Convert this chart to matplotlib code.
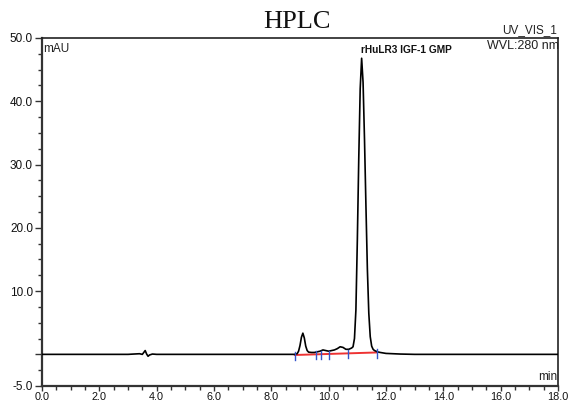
import matplotlib
matplotlib.use("Agg")
import matplotlib.pyplot as plt
from matplotlib.ticker import FixedLocator, MultipleLocator

# ---- data ----
time_min = [0.0, 1.0, 2.0, 3.0, 3.2, 3.4, 3.5, 3.55, 3.6, 3.65, 3.7, 3.75, 3.85, 4.0,
            5.0, 6.0, 7.0, 8.0, 8.5, 8.8, 8.9, 8.95, 9.0, 9.05, 9.1, 9.15, 9.2, 9.25,
            9.3, 9.4, 9.5, 9.6, 9.7, 9.8, 9.9, 10.0, 10.1, 10.2, 10.3, 10.4, 10.5,
            10.6, 10.7, 10.75, 10.8, 10.85, 10.9, 10.95, 11.0, 11.05, 11.1, 11.15,
            11.2, 11.25, 11.3, 11.35, 11.4, 11.45, 11.5, 11.55, 11.6, 11.7, 11.8,
            12.0, 12.5, 13.0, 14.0, 15.0, 16.0, 17.0, 18.0]
absorbance = [0.0, 0.0, 0.0, 0.0, 0.05, 0.1, 0.0, 0.3, 0.6, 0.05, -0.3, -0.1, 0.05, 0.0,
              0.0, 0.0, 0.0, 0.0, 0.0, 0.0, 0.1, 0.5, 1.4, 2.7, 3.35, 2.6, 1.3, 0.6,
              0.35, 0.3, 0.3, 0.4, 0.5, 0.7, 0.6, 0.5, 0.6, 0.7, 0.9, 1.2, 1.1,
              0.8, 0.8, 0.9, 1.0, 1.2, 2.5, 7.0, 18.0, 31.0, 42.0, 46.8,
              43.0, 34.0, 23.5, 13.5, 6.5, 2.8, 1.3, 0.8, 0.6, 0.4, 0.3,
              0.15, 0.05, 0.0, 0.0, 0.0, 0.0, 0.0, 0.0]

baseline_t = [8.82, 11.68]
baseline_v = [-0.1, 0.3]
marker_t = [8.82, 9.55, 9.72, 10.0, 10.67, 11.68]

peak_name = "rHuLR3 IGF-1 GMP"
peak_t = 11.15
peak_v = 46.8

x_major = [0, 2, 4, 6, 8, 10, 12, 14, 16, 18]
x_labels = ["0.0", "2.0", "4.0", "6.0", "8.0", "10.0", "12.0", "14.0", "16.0", "18.0"]
y_major = [-5, 0, 10, 20, 30, 40, 50]
y_labels = ["-5.0", "", "10.0", "20.0", "30.0", "40.0", "50.0"]

# ---- figure ----
fig = plt.figure(figsize=(5.69, 4.03), dpi=100)
ax = fig.add_axes([42 / 569, 1 - 386 / 403, (558 - 42) / 569, (386 - 38) / 403])

ax.plot(baseline_t, baseline_v, color="#ee3333", lw=1.4, zorder=2)
ax.plot(time_min, absorbance, color="black", lw=1.2, zorder=3)
for t in marker_t:
    b = baseline_v[0] + (baseline_v[1] - baseline_v[0]) * (t - baseline_t[0]) / (baseline_t[1] - baseline_t[0])
    ax.plot([t, t], [b - 0.8, b + 0.5], color="#3355cc", lw=1.0, zorder=4)

ax.set_xlim(0, 18)
ax.set_ylim(-5, 50)

tick_font = dict(family="Liberation Sans", size=7.8)
ax.xaxis.set_major_locator(FixedLocator(x_major))
ax.set_xticklabels(x_labels, fontdict=tick_font, color="#111111")
ax.xaxis.set_minor_locator(MultipleLocator(0.5))
ax.yaxis.set_major_locator(FixedLocator(y_major))
ax.set_yticklabels(y_labels, fontdict=dict(family="Liberation Sans", size=8.5), color="#111111")
ax.yaxis.set_minor_locator(MultipleLocator(2.5))

ax.tick_params(axis="y", which="major", direction="out", length=5, width=1.0,
               color="#333333", pad=1.5)
ax.tick_params(axis="x", which="major", direction="out", length=3.5, width=1.0,
               color="#333333", pad=0.5)
ax.tick_params(axis="both", which="minor", direction="out", length=3, width=1.0,
               color="#333333")

for s in ["left", "bottom"]:
    ax.spines[s].set_linewidth(1.6)
    ax.spines[s].set_color("#333333")
for s in ["top", "right"]:
    ax.spines[s].set_linewidth(1.2)
    ax.spines[s].set_color("#222222")

small = dict(family="Liberation Sans", size=8.5, color="#222222")
ax.text(0.002, 0.985, "mAU", transform=ax.transAxes, ha="left", va="top", **small)
ax.text(0.998, 1.005, "UV_VIS_1", transform=ax.transAxes, ha="right", va="bottom", **small)
ax.text(1.002, 0.995, "WVL:280 nm", transform=ax.transAxes, ha="right", va="top",
        family="Liberation Sans", size=9, color="#222222")
ax.text(0.998, 0.01, "min", transform=ax.transAxes, ha="right", va="bottom", **small)
ax.text(peak_t - 0.02, peak_v + 1.3, peak_name, ha="left", va="center",
        family="Liberation Sans", size=7.3, weight="bold", color="#111111")

fig.text(0.522, 0.945, "HPLC", ha="center", va="center",
         family="Liberation Serif", size=19, color="#111111")

fig.savefig("out.png", dpi=100)
